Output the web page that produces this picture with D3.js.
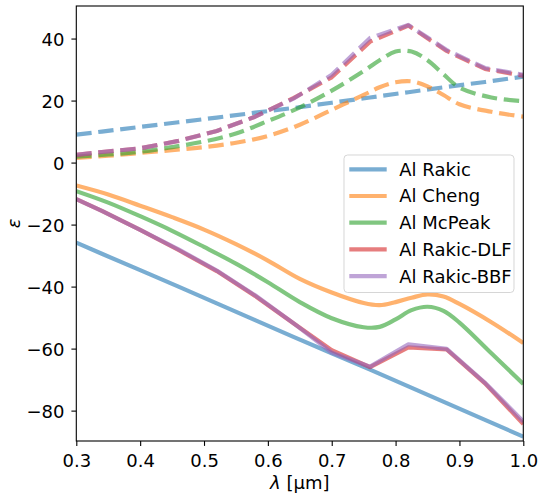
<!DOCTYPE html>
<html>
<head>
<meta charset="utf-8">
<script src="https://cdn.jsdelivr.net/npm/d3@7"></script>
<style>
  body { margin: 0; background: #fff; }
  text { font-family: "DejaVu Sans", sans-serif; fill: #000; }
</style>
</head>
<body>
<div id="chart"></div>
<script>
// wavelength grids (um)
const wlCoarse = [0.30, 0.34, 0.40, 0.46, 0.52, 0.58, 0.64, 0.70, 0.76, 0.82, 0.88, 0.94, 1.00];
const wlFine = [0.30, 0.35, 0.40, 0.45, 0.50, 0.55, 0.60, 0.65, 0.70, 0.75, 0.775, 0.80, 0.825, 0.85, 0.875, 0.90, 0.95, 1.00];

// real parts (solid) and imaginary parts (dashed)
const rakicRe = [-25.8, -29.4, -34.7, -40.0, -45.4, -50.8, -56.2, -61.5, -66.8, -72.2, -77.6, -83.0, -88.4];
const rakicIm = [9.0, 10.0, 11.5, 13.0, 14.5, 16.1, 17.6, 19.3, 21.0, 22.7, 24.4, 26.0, 27.7];
const chengRe = [-7.4, -10.3, -13.9, -17.6, -21.6, -26.3, -31.6, -37.5, -41.9, -45.3, -46.0, -45.0, -43.6, -42.5, -43.2, -45.6, -51.5, -58.2];
const chengIm = [1.5, 2.2, 3.1, 4.0, 5.0, 6.4, 8.6, 12.2, 17.0, 21.8, 24.3, 25.9, 26.2, 24.6, 21.8, 18.8, 16.4, 14.8];
const mcpeakRe = [-9.2, -12.9, -17.3, -22.0, -27.2, -32.6, -38.6, -45.0, -50.2, -53.1, -53.0, -50.6, -47.6, -46.5, -47.8, -51.6, -61.5, -71.4];
const mcpeakIm = [1.9, 2.6, 3.5, 5.0, 6.8, 9.4, 13.4, 17.8, 23.2, 29.5, 33.0, 35.8, 35.8, 33.0, 28.5, 24.2, 21.0, 19.8];
const dlfRe = [-11.8, -15.6, -21.7, -28.2, -35.0, -43.0, -51.8, -60.5, -66.0, -59.6, -60.3, -71.2, -84.3];
const dlfIm = [2.5, 3.4, 4.6, 7.0, 10.2, 14.8, 20.8, 27.5, 39.0, 44.2, 36.0, 30.2, 28.0];
const bbfRe = [-11.8, -15.6, -21.7, -28.0, -34.8, -42.8, -51.8, -61.3, -65.8, -58.6, -60.1, -71.0, -83.5];
const bbfIm = [2.5, 3.4, 4.6, 7.0, 10.2, 14.8, 20.6, 28.3, 40.2, 44.4, 36.3, 30.5, 28.3];

const labels = ["Al Rakic", "Al Cheng", "Al McPeak", "Al Rakic-DLF", "Al Rakic-BBF"];
const colors = ["#1f77b4", "#ff7f0e", "#2ca02c", "#d62728", "#9467bd"];
const xTicks = [0.3, 0.4, 0.5, 0.6, 0.7, 0.8, 0.9, 1.0];
const yTicks = [-80, -60, -40, -20, 0, 20, 40];

const series = [
    {wl: wlCoarse, re: rakicRe, im: rakicIm, smooth: false},
    {wl: wlFine, re: chengRe, im: chengIm, smooth: true},
    {wl: wlFine, re: mcpeakRe, im: mcpeakIm, smooth: true},
    {wl: wlCoarse, re: dlfRe, im: dlfIm, smooth: false},
    {wl: wlCoarse, re: bbfRe, im: bbfIm, smooth: false}
];

var W = 543, H = 503;
var margin = {top: 6, right: 19.7, bottom: 62, left: 76.3},
    width = W - margin.left - margin.right,
    height = H - margin.top - margin.bottom;
var fs = 18, lw = 4.17;

var svg = d3.select("#chart").append("svg")
    .attr("width", W).attr("height", H);

svg.append("defs").append("clipPath").attr("id", "clip")
    .append("rect").attr("width", width).attr("height", height);

var g = svg.append("g")
    .attr("transform", "translate(" + margin.left + "," + margin.top + ")");

var x = d3.scaleLinear().domain([0.3, 1.0]).range([0, width]);
var y = d3.scaleLinear().domain([-89.8, 50.5]).range([height, 0]);

var fmtY = function(d) { return d < 0 ? "\u2212" + Math.abs(d) : d; };

// axes
var xAxis = g.append("g")
    .attr("transform", "translate(0," + height + ")")
    .call(d3.axisBottom(x).tickValues(xTicks).tickFormat(d3.format(".1f")).tickSizeOuter(0).tickSize(4.9).tickPadding(8.6));
var yAxis = g.append("g")
    .call(d3.axisLeft(y).tickValues(yTicks).tickFormat(fmtY).tickSizeOuter(0).tickSize(4.9).tickPadding(7));
[xAxis, yAxis].forEach(function(a) {
    a.select(".domain").remove();
    a.selectAll("line").attr("stroke", "#000").attr("stroke-width", 1.1);
    a.selectAll("text").style("font-size", fs + "px").attr("fill", "#000");
});
yAxis.selectAll("text").attr("dy", "0.4em");

// lines
var plot = g.append("g").attr("clip-path", "url(#clip)");
series.forEach(function(s, i) {
    var line = d3.line()
        .x(function(d, k) { return x(s.wl[k]); })
        .y(function(d) { return y(d); })
        .curve(s.smooth ? d3.curveCatmullRom.alpha(0.5) : d3.curveLinear);
    plot.append("path")
        .attr("d", line(s.re))
        .attr("fill", "none")
        .attr("stroke", colors[i])
        .attr("stroke-opacity", 0.6)
        .attr("stroke-width", lw)
        .attr("stroke-linejoin", "round");
    plot.append("path")
        .attr("d", line(s.im))
        .attr("fill", "none")
        .attr("stroke", colors[i])
        .attr("stroke-opacity", 0.6)
        .attr("stroke-width", lw)
        .attr("stroke-dasharray", "15.4,6.7")
        .attr("stroke-linejoin", "round");
});

// frame
g.append("rect")
    .attr("width", width).attr("height", height)
    .attr("fill", "none").attr("stroke", "#000").attr("stroke-width", 1.1);

// axis labels
svg.append("text")
    .attr("x", margin.left + width / 2).attr("y", 489)
    .attr("text-anchor", "middle")
    .style("font-size", fs + "px")
    .html('<tspan font-style="italic">\u03bb</tspan> [\u03bcm]');
svg.append("text")
    .attr("transform", "translate(20," + (margin.top + height / 2) + ") rotate(-90)")
    .attr("text-anchor", "middle")
    .style("font-size", fs + "px")
    .style("font-style", "italic")
    .text("\u03b5");

// legend
var lg = svg.append("g").attr("transform", "translate(344,155)");
lg.append("rect")
    .attr("width", 170).attr("height", 137.5)
    .attr("rx", 3.6)
    .attr("fill", "#fff").attr("fill-opacity", 0.8)
    .attr("stroke", "#ccc").attr("stroke-opacity", 0.8);
labels.forEach(function(l, i) {
    var yy = 14.3 + i * 26.7;
    lg.append("line")
        .attr("x1", 5.3).attr("x2", 42.7)
        .attr("y1", yy).attr("y2", yy)
        .attr("stroke", colors[i]).attr("stroke-opacity", 0.6)
        .attr("stroke-width", lw);
    lg.append("text")
        .attr("x", 55.3).attr("y", yy)
        .attr("dy", "0.36em")
        .style("font-size", fs + "px")
        .text(l);
});
</script>
</body>
</html>
